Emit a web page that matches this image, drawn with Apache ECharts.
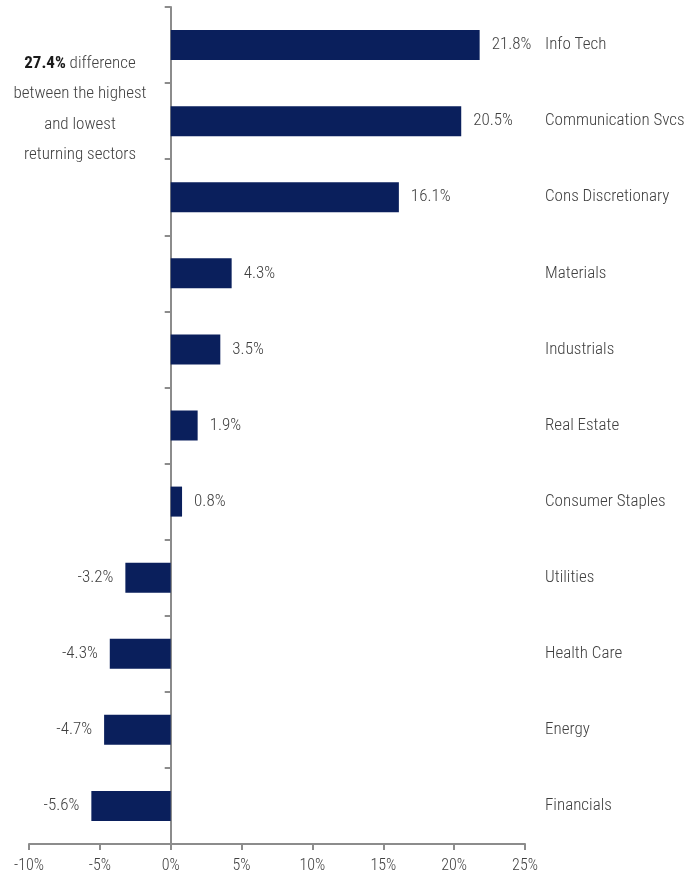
<!DOCTYPE html>
<html>
<head>
<meta charset="utf-8">
<script src="https://cdn.jsdelivr.net/npm/echarts@6/dist/echarts.min.js"></script>
<style>
  html, body { margin: 0; padding: 0; background: #fff; }
  #chart { width: 692px; height: 887px; }
</style>
</head>
<body>
<div id="chart"></div>
<script>
// sector returns, top to bottom
const sectors = ['Info Tech', 'Communication Svcs', 'Cons Discretionary', 'Materials', 'Industrials',
  'Real Estate', 'Consumer Staples', 'Utilities', 'Health Care', 'Energy', 'Financials']
const returns = [21.8, 20.5, 16.1, 4.3, 3.5, 1.9, 0.8, -3.2, -4.3, -4.7, -5.6]
const xTicks = { min: -10, max: 25, step: 5 }

const FONT = '"Roboto Condensed", "Liberation Sans Narrow", Roboto, sans-serif'
const TEXT = '#404040'
const AXIS = '#8c8c8c'

const chart = echarts.init(document.getElementById('chart'))

const option = {
  animation: false,
  textStyle: { fontFamily: FONT, color: TEXT },
  grid: { left: 29, right: 167, top: 7, bottom: 43, outerBoundsMode: 'none', containLabel: false },
  xAxis: {
    type: 'value',
    min: xTicks.min,
    max: xTicks.max,
    interval: xTicks.step,
    splitLine: { show: false },
    axisLine: { show: true, lineStyle: { color: AXIS, width: 2 } },
    axisTick: { show: true, length: 6, lineStyle: { color: AXIS, width: 2 } },
    axisLabel: { formatter: '{value}%', margin: 14, fontSize: 16, fontWeight: 300, color: TEXT, fontFamily: FONT }
  },
  yAxis: [
    {
      // 中间的零轴
      type: 'category',
      data: sectors,
      inverse: true,
      axisLine: { show: true, onZero: true, lineStyle: { color: AXIS, width: 2 } },
      axisTick: { show: true, length: 6, lineStyle: { color: AXIS, width: 2 } },
      axisLabel: { show: false }
    },
    {
      // 右侧的行业名称
      type: 'category',
      data: sectors,
      inverse: true,
      position: 'right',
      axisLine: { show: false, onZero: false },
      axisTick: { show: false },
      axisLabel: { margin: 20, fontSize: 17, fontWeight: 300, color: TEXT, fontFamily: FONT, align: 'left' }
    }
  ],
  series: [
    {
      type: 'bar',
      barWidth: 30,
      itemStyle: { color: '#0a1f5c' },
      data: returns.map(v => ({
        value: v,
        label: {
          show: true,
          position: v >= 0 ? 'right' : 'left',
          distance: 12,
          formatter: v.toFixed(1) + '%',
          fontSize: 17,
          fontWeight: 300,
          color: TEXT,
          fontFamily: FONT
        }
      }))
    }
  ],
  graphic: [
    {
      type: 'text',
      x: 80,
      y: 48,
      style: {
        align: 'center',
        verticalAlign: 'top',
        text: '{b|27.4%} difference\nbetween the highest\nand lowest\nreturning sectors',
        font: '300 17px ' + FONT,
        fill: TEXT,
        lineHeight: 30.5,
        rich: {
          b: { fontWeight: 'bold', fontSize: 17, fontFamily: FONT, fill: '#1a1a1a', lineHeight: 30.5 }
        }
      }
    }
  ]
}
chart.setOption(option)
</script>
</body>
</html>
